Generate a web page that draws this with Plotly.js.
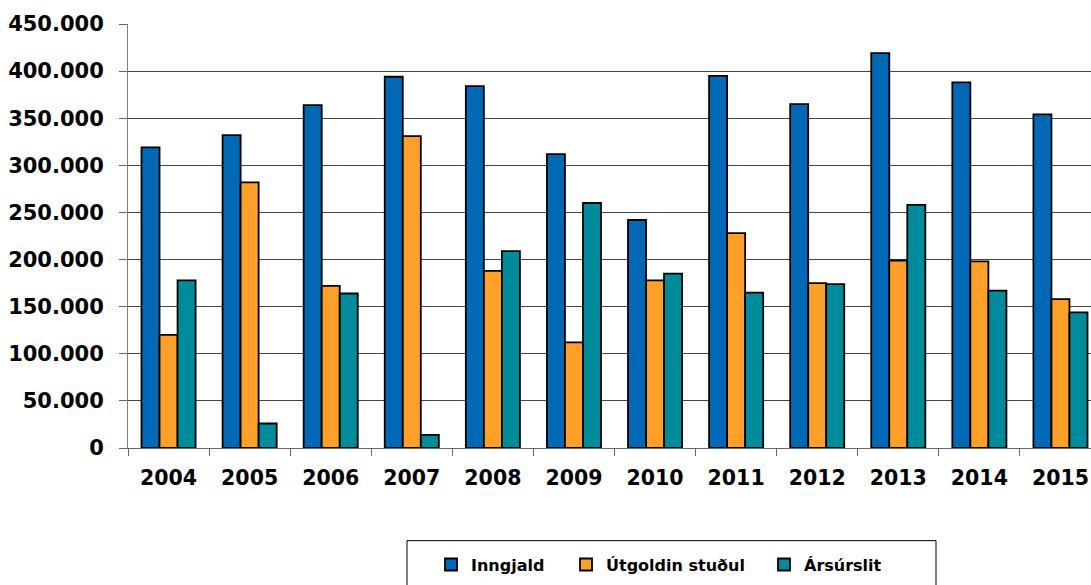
<!DOCTYPE html>
<html>
<head>
<meta charset="utf-8">
<script src="https://cdn.plot.ly/plotly-3.0.1.min.js"></script>
<style>
html, body { margin: 0; padding: 0; overflow: hidden; background: #fff; }
#chart { width: 1110px; height: 600px; }
</style>
</head>
<body>
<div id="chart"></div>
<script>
const years = ["2004","2005","2006","2007","2008","2009","2010","2011","2012","2013","2014","2015"];
const inngjald = [319000, 332000, 364000, 394000, 384000, 312000, 242000, 395000, 365000, 419000, 388000, 354000];
const utgoldin = [120000, 282000, 172000, 331000, 188000, 112000, 178000, 228000, 175000, 199000, 198000, 158000];
const arsurslit = [178000, 26000, 164000, 14000, 209000, 260000, 185000, 165000, 174000, 258000, 167000, 144000];
const seriesNames = ["Inngjald", "Útgoldin stuðul", "Ársúrslit"];
const yTicks = [0, 50000, 100000, 150000, 200000, 250000, 300000, 350000, 400000, 450000];

const colors = ["#0068B4", "#FFA02B", "#008B9A"];
const font = { family: "DejaVu Sans, Verdana, sans-serif", weight: "bold", color: "#000" };
const legendIds = ["legend", "legend2", "legend3"];

const data = [inngjald, utgoldin, arsurslit].map((vals, i) => ({
  type: "bar",
  name: seriesNames[i],
  legend: legendIds[i],
  x: years,
  y: vals,
  marker: { color: colors[i], line: { color: "#000", width: 1.8 } },
  hoverinfo: "x+y+name"
}));

const plotLeft = 128, plotRight = 1101, plotTop = 24, plotBottom = 448.3;
const W = 1110, H = 600;
const pw = plotRight - plotLeft, ph = plotBottom - plotTop;
const px = v => (v - plotLeft) / pw;
const py = v => (plotBottom - v) / ph;

function legendAt(xPix) {
  return {
    orientation: "h",
    x: px(xPix),
    xanchor: "left",
    y: py(565),
    yanchor: "middle",
    bgcolor: "rgba(0,0,0,0)",
    borderwidth: 0,
    font: { family: font.family, weight: "bold", size: 16, color: "#000" }
  };
}

const layout = {
  width: W,
  height: H,
  margin: { l: plotLeft, r: W - plotRight, t: plotTop, b: H - plotBottom, pad: 0 },
  paper_bgcolor: "#fff",
  plot_bgcolor: "#fff",
  separators: ",.",
  barmode: "group",
  bargap: 0.333,
  bargroupgap: 0,
  showlegend: true,
  font: font,
  xaxis: {
    type: "category",
    tickson: "boundaries",
    ticks: "outside",
    ticklen: 7,
    tickcolor: "#666",
    tickwidth: 1,
    showline: true,
    linecolor: "#666",
    linewidth: 1,
    showgrid: false,
    tickfont: { family: font.family, weight: "bold", size: 20.5, color: "#000" },
    ticklabelstandoff: 11,
    fixedrange: true
  },
  yaxis: {
    range: [0, 450000],
    tickvals: yTicks,
    tickformat: ",d",
    ticks: "outside",
    ticklen: 8,
    tickcolor: "#666",
    showline: true,
    linecolor: "#808080",
    linewidth: 1,
    showgrid: true,
    gridcolor: "#444",
    gridwidth: 1,
    zeroline: false,
    tickfont: { family: font.family, weight: "bold", size: 21, color: "#000" },
    ticklabelstandoff: 11,
    fixedrange: true
  },
  legend: legendAt(431),
  legend2: legendAt(566),
  legend3: legendAt(764),
  shapes: [
    {
      type: "rect", xref: "paper", yref: "paper",
      x0: px(407), x1: px(936), y0: py(541), y1: py(640),
      line: { color: "#000", width: 1 }, fillcolor: "rgba(0,0,0,0)", layer: "below"
    }
  ]
};

Plotly.newPlot("chart", data, layout, { displayModeBar: false, staticPlot: true });
</script>
</body>
</html>
